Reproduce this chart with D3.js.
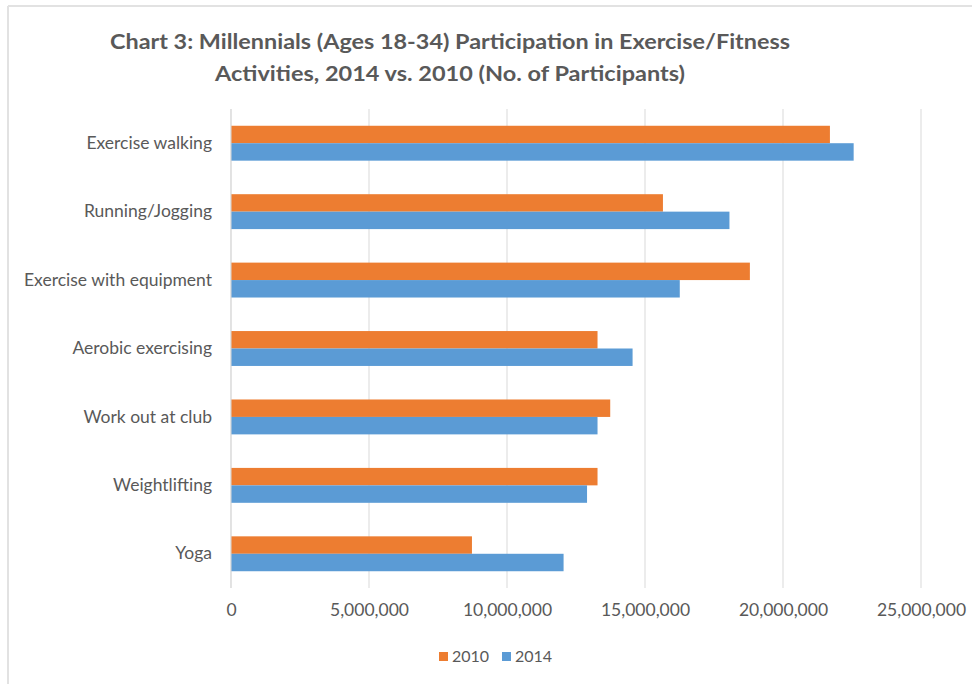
<!DOCTYPE html>
<html>
<head>
<meta charset="utf-8">
<script src="https://cdn.jsdelivr.net/npm/d3@7"></script>
<style>
  html, body { margin: 0; padding: 0; background: #fff; }
  svg { display: block; }
  text { font-family: Lato, "Open Sans", sans-serif; }
</style>
</head>
<body>
<svg id="chart" width="972" height="684"></svg>
<script>
const categories = ["Exercise walking", "Running/Jogging", "Exercise with equipment", "Aerobic exercising", "Work out at club", "Weightlifting", "Yoga"];
const seriesNames = ["2010", "2014"];
const values2010 = [21700000, 15650000, 18800000, 13280000, 13740000, 13280000, 8730000];
const values2014 = [22560000, 18060000, 16260000, 14550000, 13280000, 12900000, 12050000];
const xTicks = [0, 5000000, 10000000, 15000000, 20000000, 25000000];
const titleLines = ["Chart 3: Millennials (Ages 18-34) Participation in Exercise/Fitness", "Activities, 2014 vs. 2010 (No. of Participants)"];
const colors = ["#ED7D31", "#5B9BD5"];

const svg = d3.select("#chart");
const W = 972, H = 684;
const plot = { left: 231, right: 921, top: 109, bottom: 588 };

// outer frame (top and left border lines)
svg.append("line").attr("x1", 8).attr("x2", W).attr("y1", 6).attr("y2", 6)
  .attr("stroke", "#e2e2e2").attr("stroke-width", 2);
svg.append("line").attr("x1", 8).attr("x2", 8).attr("y1", 6).attr("y2", H)
  .attr("stroke", "#e2e2e2").attr("stroke-width", 2);

// title
const titleWidths = [680, 470];
svg.append("g").selectAll("text").data(titleLines).join("text")
  .attr("x", 450).attr("y", (d, i) => 49 + i * 32)
  .attr("text-anchor", "middle")
  .attr("font-size", 21.5).attr("font-weight", "bold").attr("fill", "#595959")
  .attr("textLength", (d, i) => titleWidths[i]).attr("lengthAdjust", "spacingAndGlyphs")
  .text(d => d);

const x = d3.scaleLinear().domain([0, 25000000]).range([plot.left, plot.right]);
const y = d3.scaleBand().domain(categories).range([plot.top, plot.bottom]).paddingInner(0.49).paddingOuter(0.245);
const ySub = d3.scaleBand().domain(seriesNames).range([0, y.bandwidth()]);

// gridlines
svg.append("g").selectAll("line").data(xTicks).join("line")
  .attr("x1", d => x(d)).attr("x2", d => x(d))
  .attr("y1", plot.top).attr("y2", plot.bottom)
  .attr("stroke", "#d9d9d9").attr("stroke-width", 1);

// bars
const rows = categories.map((c, i) => ({ cat: c, vals: [values2010[i], values2014[i]] }));
const g = svg.append("g");
rows.forEach(r => {
  r.vals.forEach((v, j) => {
    g.append("rect")
      .attr("x", x(0))
      .attr("y", y(r.cat) + ySub(seriesNames[j]))
      .attr("width", x(v) - x(0))
      .attr("height", ySub.bandwidth())
      .attr("fill", colors[j]);
  });
});

// y axis line
svg.append("line").attr("x1", x(0)).attr("x2", x(0)).attr("y1", plot.top).attr("y2", plot.bottom)
  .attr("stroke", "#d9d9d9");

// category labels
const yAxis = d3.axisLeft(y).tickSize(0).tickPadding(19);
const ya = svg.append("g").attr("transform", `translate(${plot.left},0)`).call(yAxis);
ya.select(".domain").remove();
ya.selectAll("text").attr("font-size", 17.5).attr("fill", "#595959").style("font-family", "Lato, sans-serif");

// x axis labels
const xAxis = d3.axisBottom(x).tickValues(xTicks).tickSize(0).tickPadding(16).tickFormat(d3.format(","));
const xa = svg.append("g").attr("transform", `translate(0,${plot.bottom})`).call(xAxis);
xa.select(".domain").remove();
xa.selectAll("text").attr("font-size", 17.5).attr("fill", "#595959").style("font-family", "Lato, sans-serif");

// legend
const legend = svg.append("g");
const legX = [439, 502];
seriesNames.forEach((s, i) => {
  legend.append("rect").attr("x", legX[i]).attr("y", 652).attr("width", 9).attr("height", 9).attr("fill", colors[i]);
  legend.append("text").attr("x", legX[i] + 13).attr("y", 662).attr("font-size", 16).attr("fill", "#595959").text(s);
});
</script>
</body>
</html>
